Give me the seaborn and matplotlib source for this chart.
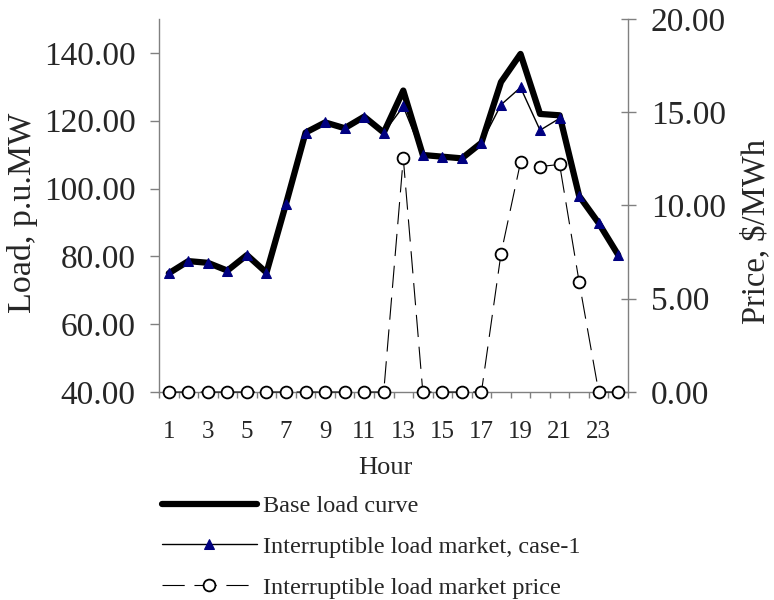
import numpy as np
import pandas as pd
import matplotlib
matplotlib.use('Agg')
import matplotlib.pyplot as plt
from matplotlib.ticker import FixedLocator, FuncFormatter
import seaborn as sns

# values
hours = list(range(1, 25))
base_load = [75.0, 78.6, 78.1, 75.8, 80.4, 75.2, 95.5, 116.5, 119.5, 117.8, 121.2, 116.5,
             128.9, 109.9, 109.4, 108.9, 113.5, 131.4, 139.7, 122.0, 121.6, 97.8, 89.8, 80.4]
case1_load = [75.0, 78.6, 78.1, 75.8, 80.4, 75.2, 95.5, 116.5, 119.5, 117.8, 121.2, 116.5,
              124.2, 109.9, 109.4, 108.9, 113.5, 124.7, 129.8, 117.2, 120.7, 97.8, 89.8, 80.4]
price = [0, 0, 0, 0, 0, 0, 0, 0, 0, 0, 0, 0,
         12.54, 0, 0, 0, 0, 7.41, 12.32, 12.09, 12.2, 5.9, 0, 0]
hour_labels = [str(h) for h in range(1, 25, 2)]
load_ticks = [40, 60, 80, 100, 120, 140]
price_ticks = [0, 5, 10, 15, 20]

df = pd.DataFrame({'hour': hours, 'base': base_load, 'case1': case1_load, 'price': price})

sns.set_style('ticks')
plt.rcParams['font.family'] = ['Liberation Serif', 'DejaVu Serif']
plt.rcParams['lines.scale_dashes'] = False

grey = '#808080'
navy = '#000080'

fig = plt.figure(figsize=(7.74, 6.0), dpi=100)
ax = fig.add_axes([159 / 774, 1 - 392 / 600, 469 / 774, 373 / 600])
ax2 = ax.twinx()

sns.lineplot(data=df, x='hour', y='base', ax=ax, color='black', lw=4.5,
             solid_capstyle='round', label='Base load curve', zorder=2)
sns.lineplot(data=df, x='hour', y='case1', ax=ax, color='black', lw=1.0,
             marker='^', markersize=7, markerfacecolor=navy, markeredgecolor=navy,
             label='Interruptible load market, case-1', zorder=3)
sns.lineplot(data=df, x='hour', y='price', ax=ax2, color='black', lw=0.8,
             linestyle=(0, (16, 7)), marker='o', markersize=8.5, markerfacecolor='white',
             markeredgecolor='black', markeredgewidth=1.3,
             label='Interruptible load market price', zorder=4, clip_on=False)

for a in (ax, ax2):
    if a.get_legend() is not None:
        a.get_legend().remove()

ax.set_xlim(0.5, 24.5)
ax.set_ylim(40, 150)
ax2.set_ylim(0, 20)

# x axis: labels on odd hours, tick marks between categories
ax.xaxis.set_major_locator(FixedLocator(list(range(1, 25, 2))))
ax.set_xticklabels(hour_labels)
ax.xaxis.set_minor_locator(FixedLocator(np.arange(0.5, 25, 1.0)))
ax.tick_params(axis='x', which='major', length=0, pad=21, labelsize=18)
ax.tick_params(axis='x', which='minor', length=4, width=1, color=grey, direction='out')

ax.set_yticks(load_ticks)
ax.yaxis.set_major_formatter(FuncFormatter(lambda v, p: f'{v:.2f}'))
ax.tick_params(axis='y', length=6.5, width=1, color=grey, direction='out', pad=10.5, labelsize=24)

ax2.set_yticks(price_ticks)
ax2.yaxis.set_major_formatter(FuncFormatter(lambda v, p: f'{v:.2f}'))
ax2.tick_params(axis='y', length=10.8, width=1, color=grey, direction='inout', pad=11, labelsize=24)

for s in ('top', 'right'):
    ax.spines[s].set_visible(False)
for s in ('top', 'left', 'bottom'):
    ax2.spines[s].set_visible(False)
for sp in (ax.spines['left'], ax.spines['bottom'], ax2.spines['right']):
    sp.set_color(grey)
    sp.set_linewidth(1.0)

ax.set_xlabel('Hour', fontsize=19, va='center')
ax.xaxis.set_label_coords(0.482, -0.205)
ax.set_ylabel('Load, p.u.MW', fontsize=24.5, va='center')
ax.yaxis.set_label_coords(-0.292, 0.48)
ax2.set_ylabel('Price, $/MWh', fontsize=23.5, va='center')
ax2.yaxis.set_label_coords(1.273, 0.43)

h1, l1 = ax.get_legend_handles_labels()
h2, l2 = ax2.get_legend_handles_labels()
fig.legend(h1 + h2, l1 + l2, loc='upper left', bbox_to_anchor=(162 / 774, 1 - 495 / 600),
           frameon=False, fontsize=17.5, handlelength=3.9, handletextpad=0.25,
           labelspacing=0.78, borderpad=0, borderaxespad=0)

fig.savefig('out.png', dpi=100)
